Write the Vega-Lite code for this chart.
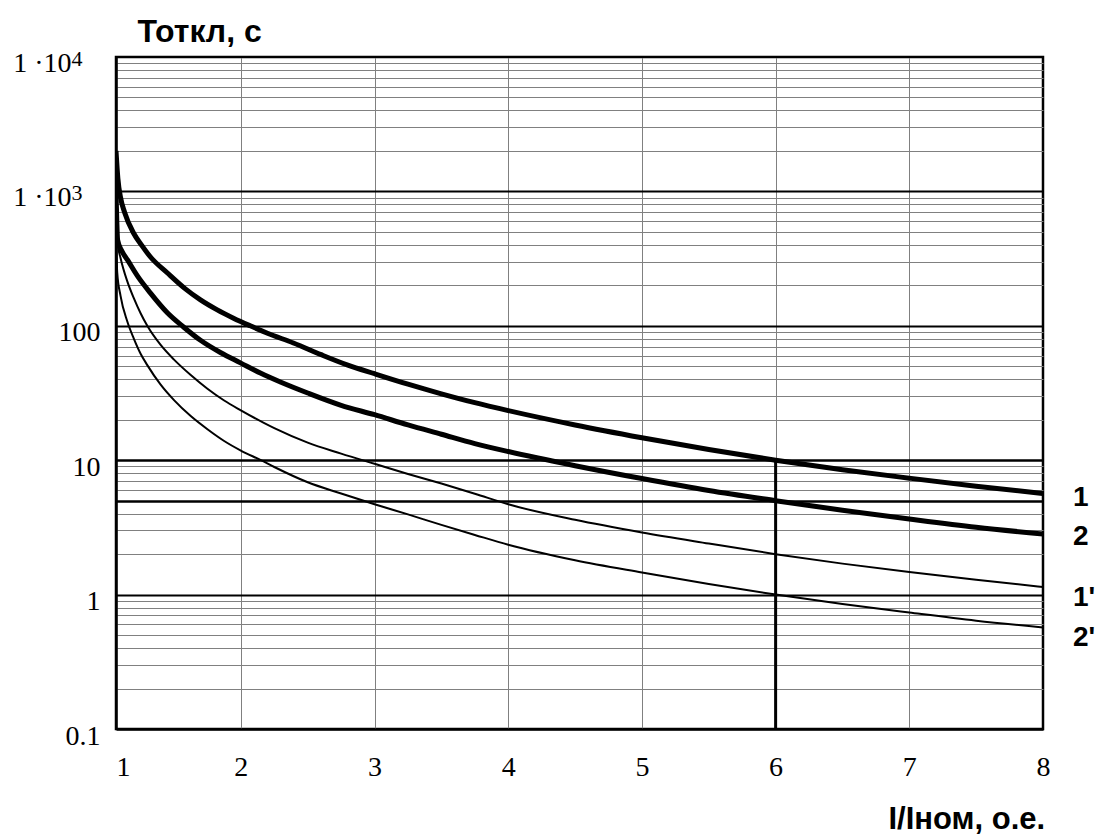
{
  "$schema": "https://vega.github.io/schema/vega-lite/v6.json",
  "width": 927,
  "height": 672,
  "autosize": {"type": "none"},
  "padding": {"left": 116, "top": 57, "right": 56, "bottom": 108},
  "background": "white",
  "config": {"view": {"stroke": "black", "strokeWidth": 2.5}},
  "resolve": {"axis": {"y": "independent"}},
  "datasets": {
    "curves": [
      {"series": "1", "x": 1.066, "t": 2000}, {"series": "1", "x": 1.08, "t": 1250}, {"series": "1", "x": 1.1, "t": 900},
      {"series": "1", "x": 1.13, "t": 700}, {"series": "1", "x": 1.197, "t": 490}, {"series": "1", "x": 1.26, "t": 395},
      {"series": "1", "x": 1.324, "t": 325}, {"series": "1", "x": 1.451, "t": 247}, {"series": "1", "x": 1.58, "t": 190},
      {"series": "1", "x": 1.698, "t": 156}, {"series": "1", "x": 1.82, "t": 132}, {"series": "1", "x": 1.945, "t": 114},
      {"series": "1", "x": 2.07, "t": 100}, {"series": "1", "x": 2.199, "t": 88}, {"series": "1", "x": 2.393, "t": 74.5},
      {"series": "1", "x": 2.6, "t": 61}, {"series": "1", "x": 2.8, "t": 51}, {"series": "1", "x": 3.0, "t": 44},
      {"series": "1", "x": 3.25, "t": 36.8}, {"series": "1", "x": 3.5, "t": 31.2}, {"series": "1", "x": 3.75, "t": 26.8},
      {"series": "1", "x": 4.0, "t": 23.4}, {"series": "1", "x": 4.5, "t": 18.3}, {"series": "1", "x": 5.0, "t": 14.7},
      {"series": "1", "x": 5.5, "t": 12.0}, {"series": "1", "x": 6.0, "t": 10.0}, {"series": "1", "x": 6.5, "t": 8.5},
      {"series": "1", "x": 7.0, "t": 7.35}, {"series": "1", "x": 7.5, "t": 6.4}, {"series": "1", "x": 8.0, "t": 5.65},

      {"series": "2", "x": 1.066, "t": 1000}, {"series": "2", "x": 1.072, "t": 600}, {"series": "2", "x": 1.078, "t": 435},
      {"series": "2", "x": 1.11, "t": 360}, {"series": "2", "x": 1.152, "t": 309}, {"series": "2", "x": 1.23, "t": 232},
      {"series": "2", "x": 1.324, "t": 175}, {"series": "2", "x": 1.45, "t": 125}, {"series": "2", "x": 1.571, "t": 98},
      {"series": "2", "x": 1.698, "t": 78}, {"series": "2", "x": 1.85, "t": 63}, {"series": "2", "x": 1.997, "t": 53},
      {"series": "2", "x": 2.146, "t": 44.5}, {"series": "2", "x": 2.3, "t": 38}, {"series": "2", "x": 2.5, "t": 31.6},
      {"series": "2", "x": 2.75, "t": 25.6}, {"series": "2", "x": 3.0, "t": 21.8}, {"series": "2", "x": 3.25, "t": 18.3},
      {"series": "2", "x": 3.5, "t": 15.6}, {"series": "2", "x": 3.75, "t": 13.3}, {"series": "2", "x": 4.0, "t": 11.6},
      {"series": "2", "x": 4.5, "t": 9.1}, {"series": "2", "x": 5.0, "t": 7.3}, {"series": "2", "x": 5.5, "t": 5.95},
      {"series": "2", "x": 6.0, "t": 5.0}, {"series": "2", "x": 6.5, "t": 4.24}, {"series": "2", "x": 7.0, "t": 3.65},
      {"series": "2", "x": 7.5, "t": 3.17}, {"series": "2", "x": 8.0, "t": 2.82},

      {"series": "1'", "x": 1.066, "t": 700}, {"series": "1'", "x": 1.08, "t": 400}, {"series": "1'", "x": 1.1, "t": 320},
      {"series": "1'", "x": 1.15, "t": 215}, {"series": "1'", "x": 1.2, "t": 160}, {"series": "1'", "x": 1.25, "t": 124},
      {"series": "1'", "x": 1.3, "t": 100}, {"series": "1'", "x": 1.4, "t": 72}, {"series": "1'", "x": 1.5, "t": 56},
      {"series": "1'", "x": 1.625, "t": 43}, {"series": "1'", "x": 1.75, "t": 34}, {"series": "1'", "x": 1.875, "t": 27.8},
      {"series": "1'", "x": 2.0, "t": 23.5}, {"series": "1'", "x": 2.25, "t": 17.3}, {"series": "1'", "x": 2.5, "t": 13.5},
      {"series": "1'", "x": 2.75, "t": 11.2}, {"series": "1'", "x": 3.0, "t": 9.4}, {"series": "1'", "x": 3.25, "t": 7.9},
      {"series": "1'", "x": 3.5, "t": 6.7}, {"series": "1'", "x": 3.75, "t": 5.63}, {"series": "1'", "x": 4.0, "t": 4.7},
      {"series": "1'", "x": 4.5, "t": 3.6}, {"series": "1'", "x": 5.0, "t": 2.9}, {"series": "1'", "x": 5.5, "t": 2.4},
      {"series": "1'", "x": 6.0, "t": 2.0}, {"series": "1'", "x": 6.5, "t": 1.7}, {"series": "1'", "x": 7.0, "t": 1.47},
      {"series": "1'", "x": 7.5, "t": 1.29}, {"series": "1'", "x": 8.0, "t": 1.14},

      {"series": "2'", "x": 1.066, "t": 500}, {"series": "2'", "x": 1.075, "t": 250}, {"series": "2'", "x": 1.1, "t": 167},
      {"series": "2'", "x": 1.15, "t": 108}, {"series": "2'", "x": 1.2, "t": 80}, {"series": "2'", "x": 1.25, "t": 62},
      {"series": "2'", "x": 1.3, "t": 51}, {"series": "2'", "x": 1.4, "t": 36.5}, {"series": "2'", "x": 1.5, "t": 28},
      {"series": "2'", "x": 1.625, "t": 21.3}, {"series": "2'", "x": 1.75, "t": 17}, {"series": "2'", "x": 1.875, "t": 13.9},
      {"series": "2'", "x": 2.0, "t": 11.8}, {"series": "2'", "x": 2.15, "t": 10}, {"series": "2'", "x": 2.25, "t": 8.9},
      {"series": "2'", "x": 2.5, "t": 6.85}, {"series": "2'", "x": 2.75, "t": 5.65}, {"series": "2'", "x": 3.0, "t": 4.7},
      {"series": "2'", "x": 3.25, "t": 3.95}, {"series": "2'", "x": 3.5, "t": 3.3}, {"series": "2'", "x": 3.75, "t": 2.78},
      {"series": "2'", "x": 4.0, "t": 2.35}, {"series": "2'", "x": 4.5, "t": 1.8}, {"series": "2'", "x": 5.0, "t": 1.46},
      {"series": "2'", "x": 5.5, "t": 1.2}, {"series": "2'", "x": 6.0, "t": 1.0}, {"series": "2'", "x": 6.5, "t": 0.85},
      {"series": "2'", "x": 7.0, "t": 0.735}, {"series": "2'", "x": 7.5, "t": 0.64}, {"series": "2'", "x": 8.0, "t": 0.57}
    ],
    "rules": [{"x": 6, "t": 0.1, "t2": 10}],
    "labels": [
      {"label": "1", "x": 8, "t": 5.24},
      {"label": "2", "x": 8, "t": 2.68},
      {"label": "1'", "x": 8, "t": 0.943},
      {"label": "2'", "x": 8, "t": 0.475}
    ]
  },
  "layer": [
    {
      "data": {"name": "curves"},
      "mark": {"type": "line", "interpolate": "monotone", "color": "black", "clip": true},
      "encoding": {
        "x": {
          "field": "x", "type": "quantitative",
          "scale": {"domain": [1.066, 8], "nice": false, "zero": false},
          "axis": {
            "values": [1.066, 2, 3, 4, 5, 6, 7, 8],
            "title": "I/Iном, о.е.",
            "titleFont": "Liberation Sans", "titleFontWeight": "bold", "titleFontSize": 31, "titleColor": "black",
            "titleAlign": "left", "titleBaseline": "alphabetic", "titleX": 772, "titleY": 99, "titleAngle": 0,
            "labelExpr": "datum.value < 1.5 ? '1' : format(datum.value, 'd')",
            "labelFont": "Liberation Serif", "labelFontSize": 28, "labelColor": "black",
            "labelBaseline": "alphabetic", "labelPadding": 46,
            "labelAlign": {"condition": {"test": "datum.value < 1.5", "value": "left"}, "value": "center"},
            "labelOverlap": false, "labelFlush": false,
            "ticks": false, "tickSize": 0,
            "domain": true, "domainColor": "black", "domainWidth": 2.5,
            "grid": true, "gridColor": "#808080", "gridWidth": 1,
            "gridOpacity": {"condition": {"test": "datum.value < 1.5 || datum.value > 7.5", "value": 0}, "value": 1}
          }
        },
        "y": {
          "field": "t", "type": "quantitative",
          "scale": {"type": "log", "domain": [0.1, 10000], "nice": false},
          "axis": {
            "orient": "left",
            "values": [0.1, 0.2, 0.3, 0.4, 0.5, 0.6, 0.7, 0.8, 0.9, 1, 2, 3, 4, 5, 6, 7, 8, 9, 10, 20, 30, 40, 50, 60, 70, 80, 90, 100, 200, 300, 400, 500, 600, 700, 800, 900, 1000, 2000, 3000, 4000, 5000, 6000, 7000, 8000, 9000, 10000],
            "title": "Тоткл, с",
            "titleFont": "Liberation Sans", "titleFontWeight": "bold", "titleFontSize": 32, "titleColor": "black",
            "titleAngle": 0, "titleAlign": "left", "titleBaseline": "alphabetic", "titleX": 21, "titleY": -16,
            "labelExpr": "datum.value == 100 ? '100' : datum.value == 10 ? '10' : datum.value == 1 ? '1' : datum.value == 0.1 ? '0.1' : ''",
            "labelFont": "Liberation Serif", "labelFontSize": 28, "labelColor": "black",
            "labelBaseline": "alphabetic", "labelOffset": 15, "labelPadding": 16, "labelAlign": "right",
            "labelOverlap": false, "labelFlush": false,
            "ticks": false, "tickSize": 0,
            "domain": true, "domainColor": "black", "domainWidth": 2.5,
            "grid": true,
            "gridColor": {"condition": {"test": "datum.value == 10000 || datum.value == 1000 || datum.value == 100 || datum.value == 10 || datum.value == 5 || datum.value == 1 || datum.value == 0.1", "value": "black"}, "value": "#808080"},
            "gridWidth": {"condition": [{"test": "datum.value == 10 || datum.value == 5", "value": 2.7}, {"test": "datum.value == 1000 || datum.value == 100 || datum.value == 1", "value": 2}], "value": 1}
          }
        },
        "detail": {"field": "series"},
        "strokeWidth": {
          "field": "series", "type": "nominal",
          "scale": {"type": "ordinal", "domain": ["1", "2", "1'", "2'"], "range": [5, 5, 2, 2]},
          "legend": null
        }
      }
    },
    {
      "data": {"name": "rules"},
      "mark": {"type": "rule", "color": "black", "strokeWidth": 3},
      "encoding": {
        "x": {"field": "x", "type": "quantitative"},
        "y": {
          "field": "t", "type": "quantitative",
          "axis": {
            "orient": "left", "values": [1000, 10000], "title": null,
            "labelExpr": "datum.value == 10000 ? '4' : '3'",
            "labelFont": "Liberation Serif", "labelFontSize": 22, "labelColor": "black",
            "labelBaseline": "alphabetic", "labelOffset": 8, "labelPadding": 34, "labelAlign": "right",
            "labelOverlap": false, "labelFlush": false,
            "ticks": false, "tickSize": 0, "domain": false, "grid": false
          }
        },
        "y2": {"field": "t2"}
      }
    },
    {
      "data": {"name": "labels"},
      "mark": {"type": "text", "align": "left", "baseline": "middle", "dx": 30, "font": "Liberation Sans", "fontWeight": "bold", "fontSize": 28, "color": "black", "clip": false},
      "encoding": {
        "x": {"field": "x", "type": "quantitative"},
        "y": {
          "field": "t", "type": "quantitative",
          "axis": {
            "orient": "left", "values": [1000, 10000], "title": null,
            "labelExpr": "'1 ·10'",
            "labelFont": "Liberation Serif", "labelFontSize": 28, "labelColor": "black",
            "labelBaseline": "alphabetic", "labelOffset": 14, "labelPadding": 45, "labelAlign": "right",
            "labelOverlap": false, "labelFlush": false,
            "ticks": false, "tickSize": 0, "domain": false, "grid": false
          }
        },
        "text": {"field": "label"}
      }
    }
  ]
}
